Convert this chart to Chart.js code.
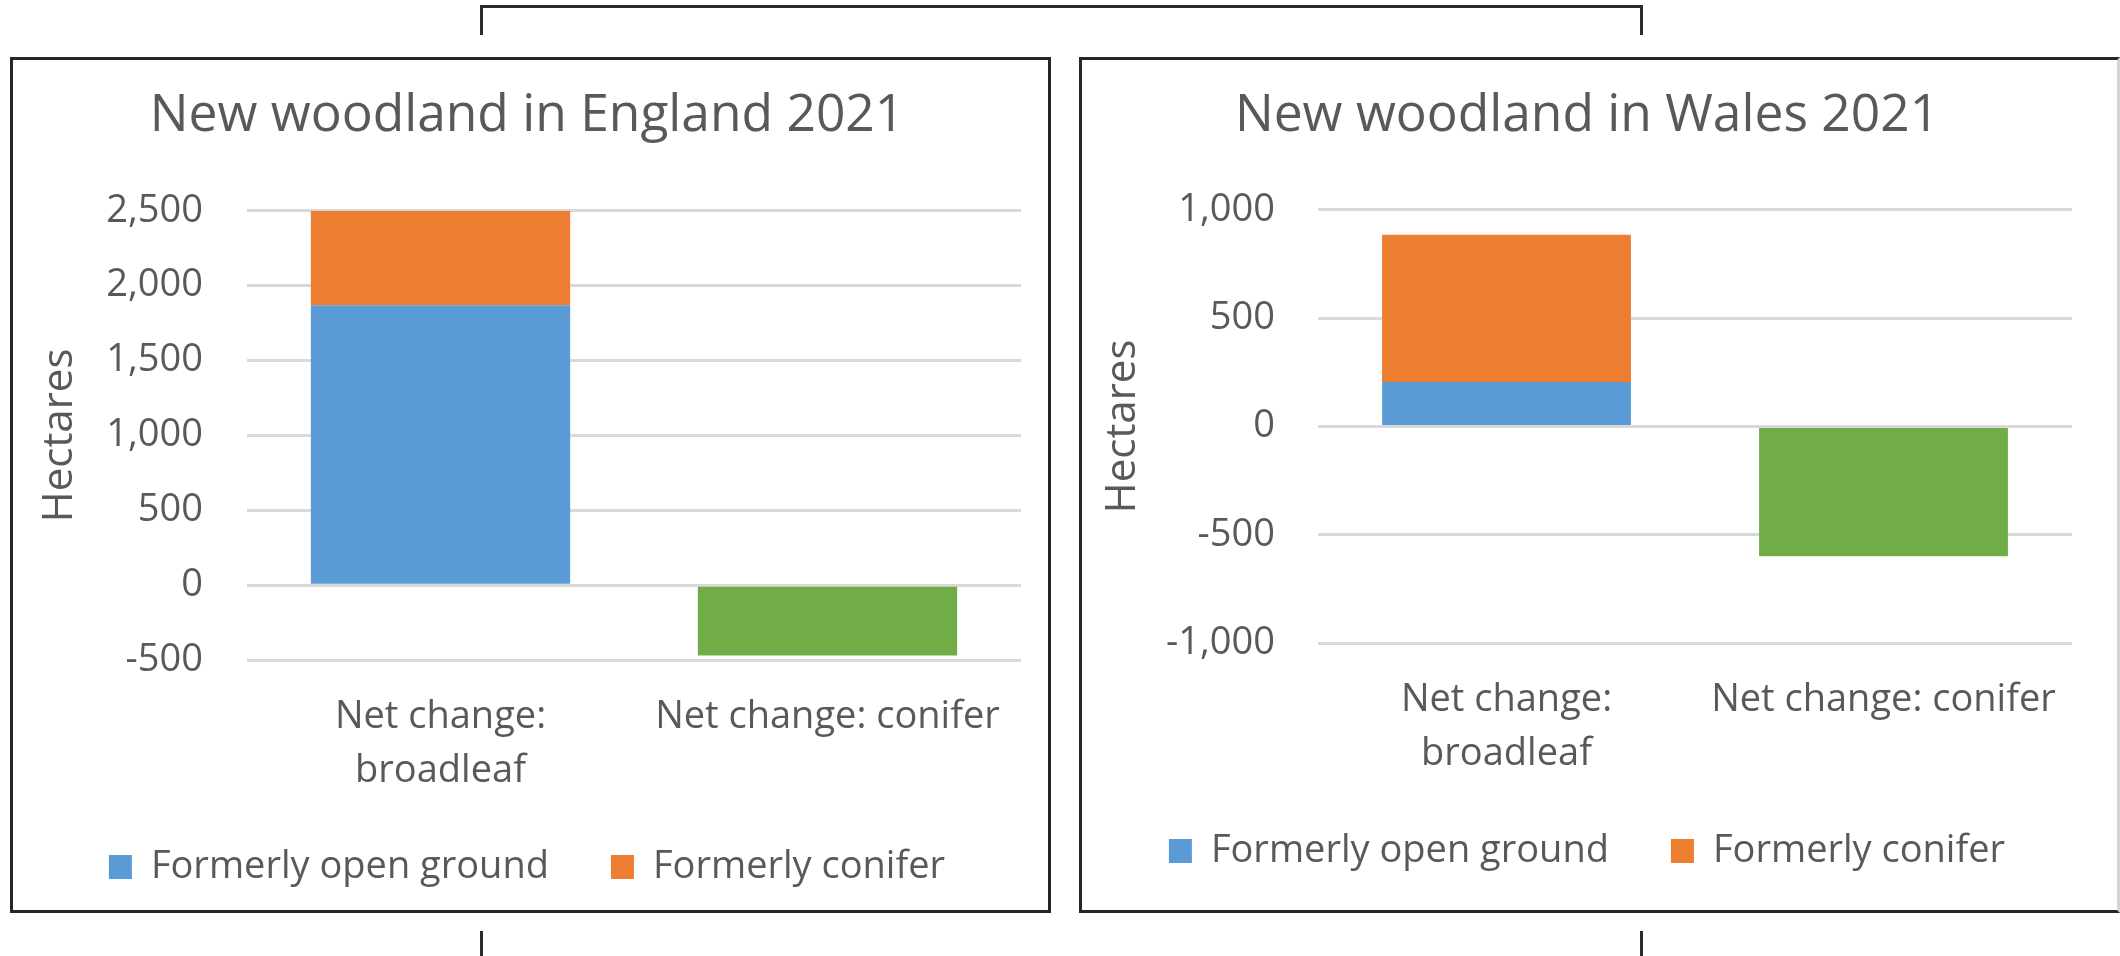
<!DOCTYPE html>
<html>
<head>
<meta charset="utf-8">
<script src="https://cdn.jsdelivr.net/npm/chart.js@4.4.1/dist/chart.umd.min.js"></script>
<style>
  body { margin: 0; background: #fff; width: 2120px; height: 956px; position: relative; overflow: hidden; }
  .panel { position: absolute; top: 57px; width: 1035px; height: 850px; border: 3px solid #262626; background: #fff; }
  .panel canvas { display: block; }
  #eng_panel { left: 10px; }
  #wal_panel { left: 1079px; border-right-color: #d4d4d4; }
  .line { position: absolute; background: #2b2b2b; }
</style>
</head>
<body>
<div class="line" style="left:480px;top:5px;width:1163px;height:3px"></div>
<div class="line" style="left:480px;top:5px;width:3px;height:30px"></div>
<div class="line" style="left:1640px;top:5px;width:3px;height:30px"></div>
<div class="line" style="left:480px;top:931px;width:3px;height:25px"></div>
<div class="line" style="left:1640px;top:931px;width:3px;height:25px"></div>

<div class="panel" id="eng_panel"><canvas id="eng_chart" width="1035" height="850"></canvas></div>
<div class="panel" id="wal_panel"><canvas id="wal_chart" width="1035" height="850"></canvas></div>

<script>
const categories = [['Net change:', 'broadleaf'], 'Net change: conifer'];
const seriesNames = ['Formerly open ground', 'Formerly conifer', 'Net change: conifer'];
const seriesColors = ['#5B9BD5', '#ED7D31', '#70AD47'];

const englandOpenGround = [1870, null];
const englandFormerConifer = [630, null];
const englandConifer = [null, -470];
const englandTicks = [-500, 0, 500, 1000, 1500, 2000, 2500];

const walesOpenGround = [205, null];
const walesFormerConifer = [680, null];
const walesConifer = [null, -600];
const walesTicks = [-1000, -500, 0, 500, 1000];

Chart.defaults.font.family = "'Open Sans', sans-serif";
Chart.defaults.color = '#595959';

function makeChart(id, title, series, ticks, opt) {
  const ctx = document.getElementById(id).getContext('2d');
  return new Chart(ctx, {
    type: 'bar',
    data: {
      labels: categories,
      datasets: series.map((values, i) => ({
        label: seriesNames[i],
        data: values,
        backgroundColor: seriesColors[i],
        borderWidth: 0,
        barPercentage: opt.barPct,
        categoryPercentage: 1.0
      }))
    },
    options: {
      responsive: false,
      animation: false,
      layout: { padding: { left: opt.padLeft, right: opt.padRight, top: 0, bottom: opt.padBottom } },
      plugins: {
        title: {
          display: true,
          text: title,
          color: '#595959',
          font: { size: 51.5, weight: 'normal', lineHeight: 1.2 },
          padding: { top: 25, bottom: opt.titleBottom }
        },
        legend: {
          position: 'bottom',
          labels: {
            boxWidth: 23,
            boxHeight: 24,
            padding: 62,
            color: '#595959',
            font: { size: 38 },
            // the green bar has no legend entry in the original
            filter: item => item.datasetIndex < 2
          }
        },
        tooltip: { enabled: false }
      },
      scales: {
        x: {
          stacked: true,
          grid: { display: false, drawTicks: false },
          border: { display: false },
          ticks: { padding: 30, maxRotation: 0, autoSkip: false, font: { size: 38, lineHeight: 1.42 } },
          afterFit: scale => { scale.height = opt.xHeight; }
        },
        y: {
          stacked: true,
          min: ticks[0],
          max: ticks[ticks.length - 1],
          afterBuildTicks: scale => { scale.ticks = ticks.map(v => ({ value: v })); },
          grid: { color: '#d9d9d9', lineWidth: 3, drawTicks: false },
          border: { display: false },
          ticks: {
            padding: opt.tickPad,
            font: { size: 38 },
            callback: v => v.toLocaleString('en-US')
          },
          title: {
            display: true,
            text: 'Hectares',
            font: { size: 42, lineHeight: 1 },
            padding: { top: opt.hectaresPad, bottom: 0 }
          },
          afterFit: scale => { scale.width = opt.yWidth; }
        }
      }
    }
  });
}

makeChart('eng_chart', 'New woodland in England 2021',
  [englandOpenGround, englandFormerConifer, englandConifer], englandTicks,
  { barPct: 0.67, padLeft: 20, padRight: 27, padBottom: 14, titleBottom: 64, xHeight: 126, yWidth: 214, tickPad: 44, hectaresPad: 6 });

makeChart('wal_chart', 'New woodland in Wales 2021',
  [walesOpenGround, walesFormerConifer, walesConifer], walesTicks,
  { barPct: 0.66, padLeft: 20, padRight: 45, padBottom: 30, titleBottom: 63, xHeight: 127, yWidth: 216, tickPad: 43, hectaresPad: 0 });
</script>
</body>
</html>
